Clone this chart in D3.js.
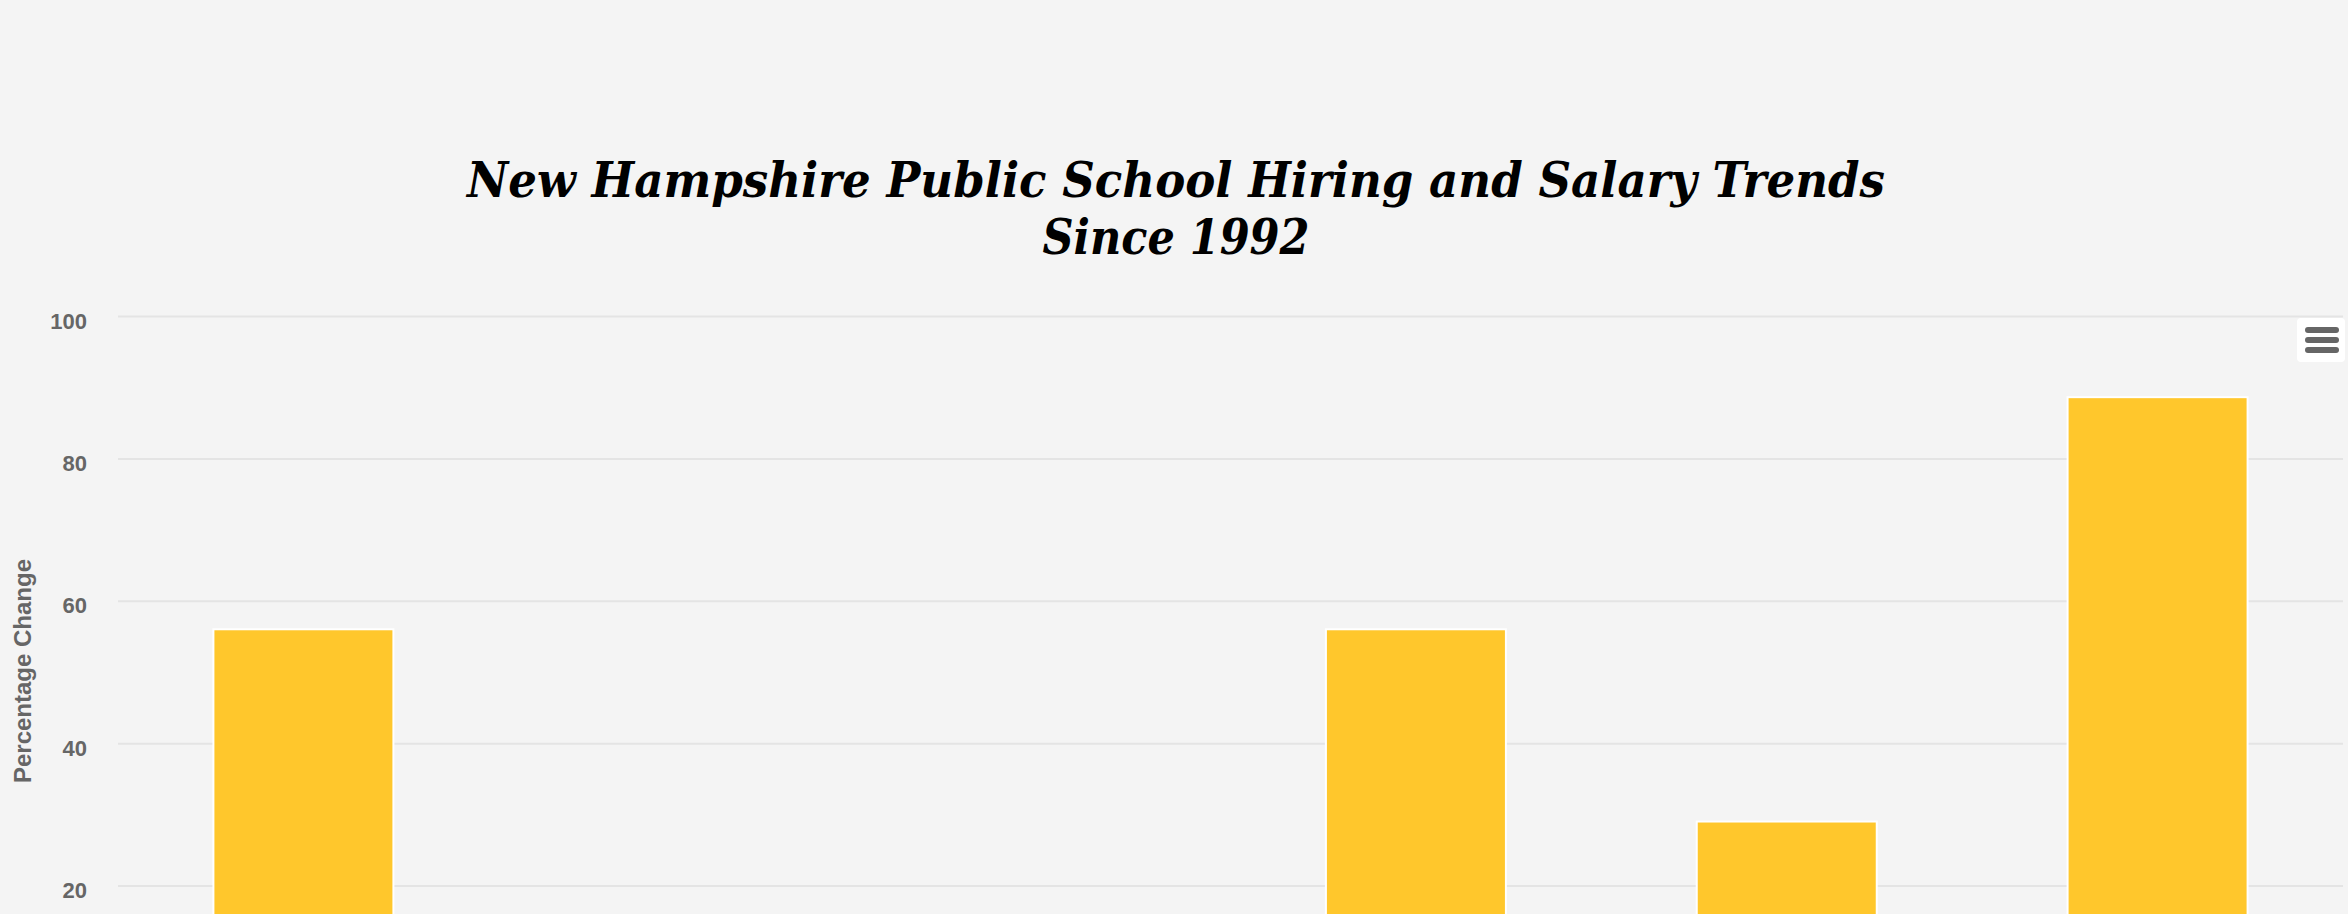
<!DOCTYPE html>
<html>
<head>
<meta charset="utf-8">
<script src="https://cdn.jsdelivr.net/npm/d3@7"></script>
<style>
    html, body { margin: 0; padding: 0; background: #f4f4f4; overflow: hidden; }
    svg { display: block; }
</style>
</head>
<body>
<div id="chart"></div>
<script>
// categories along the x axis (their labels sit below the photographed area)
const categories = ["Administrators", "Enrollment", "Teacher Salary (Real)", "Teachers", "Average Salary", "Support Staff"];
// percentage change since 1992
const values = [56, 9, 4, 56, 29, 88.6];
const yTicks = [20, 40, 60, 80, 100];
const titleLines = ["New Hampshire Public School Hiring and Salary Trends", "Since 1992"];

const width = 2348;
const height = 914;
const margin = { left: 118, right: 5, top: 316 };
const zeroY = 1028;

const svg = d3.select("#chart")
    .append("svg")
    .attr("width", width)
    .attr("height", height);

svg.append("rect")
    .attr("width", width)
    .attr("height", height)
    .attr("fill", "#f4f4f4");

const x = d3.scaleBand()
    .domain(categories)
    .range([margin.left, width - margin.right])
    .paddingInner(0)
    .paddingOuter(0);

const y = d3.scaleLinear()
    .domain([0, 100])
    .range([zeroY, margin.top]);

// gridlines + y labels
const yAxis = svg.append("g")
    .attr("transform", `translate(${margin.left},0)`)
    .call(d3.axisLeft(y)
        .tickValues(yTicks)
        .tickSize(-(width - margin.right - margin.left))
        .tickPadding(31));

yAxis.select(".domain").remove();
yAxis.selectAll(".tick line")
    .attr("stroke", "#e4e4e4")
    .attr("stroke-width", 2);
yAxis.selectAll(".tick text")
    .attr("fill", "#666666")
    .attr("dy", "0.55em")
    .style("font-family", "'Liberation Sans', Arial, sans-serif")
    .style("font-size", "22px")
    .style("font-weight", "bold");

// bars
const barW = x.bandwidth() * 0.6 * 0.8 + 2;
svg.append("g")
    .selectAll("rect")
    .data(values)
    .enter()
    .append("rect")
    .attr("x", (d, i) => x(categories[i]) + (x.bandwidth() - barW) / 2)
    .attr("y", d => y(Math.max(0, d)))
    .attr("width", barW)
    .attr("height", d => Math.abs(y(d) - y(0)))
    .attr("fill", "#ffc72c")
    .attr("stroke", "#ffffff")
    .attr("stroke-width", 2);

// y axis title
svg.append("text")
    .attr("transform", "translate(31,671) rotate(-90)")
    .attr("text-anchor", "middle")
    .attr("fill", "#666666")
    .style("font-family", "'Liberation Sans', Arial, sans-serif")
    .style("font-size", "24px")
    .style("font-weight", "bold")
    .text("Percentage Change");

// title
const titleWidths = [1418, 267];
const titleBase = [197, 254];
svg.append("g")
    .selectAll("text")
    .data(titleLines)
    .enter()
    .append("text")
    .attr("x", 1176)
    .attr("y", (d, i) => titleBase[i])
    .attr("text-anchor", "middle")
    .attr("textLength", (d, i) => titleWidths[i])
    .attr("lengthAdjust", "spacingAndGlyphs")
    .attr("fill", "#000000")
    .style("font-family", "'DejaVu Serif', Georgia, serif")
    .style("font-size", "49px")
    .style("font-weight", "bold")
    .style("font-style", "italic")
    .text(d => d);

// context menu button
const menu = svg.append("g").attr("transform", "translate(2297,318)");
menu.append("rect")
    .attr("width", 48)
    .attr("height", 44)
    .attr("rx", 4)
    .attr("fill", "#ffffff");
menu.selectAll("line")
    .data([12, 22, 32])
    .enter()
    .append("line")
    .attr("x1", 11)
    .attr("x2", 39)
    .attr("y1", d => d)
    .attr("y2", d => d)
    .attr("stroke", "#666666")
    .attr("stroke-width", 6)
    .attr("stroke-linecap", "round");
</script>
</body>
</html>
